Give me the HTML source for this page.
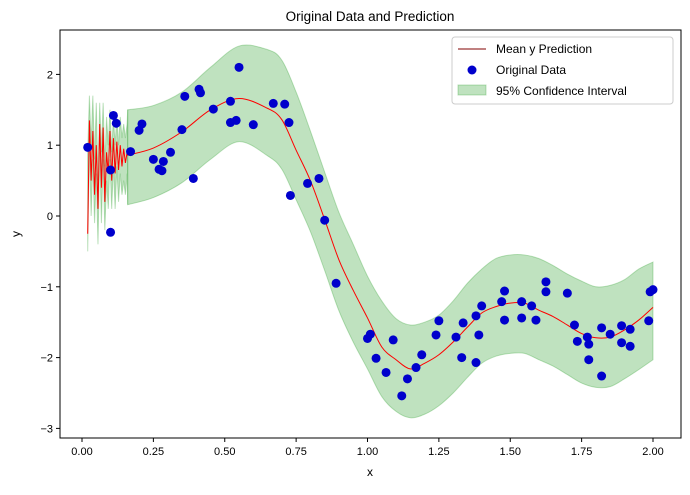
<!DOCTYPE html>
<html><head><meta charset="utf-8">
<style>
body{margin:0;background:#fff;}
svg text{font-family:"Liberation Sans","DejaVu Sans",sans-serif;fill:#000;}
</style></head>
<body>
<svg id="chart" width="690" height="490" viewBox="0 0 690 490" xmlns="http://www.w3.org/2000/svg">
<rect x="0" y="0" width="690" height="490" fill="#fff"/>
<g id="plot"></g>
</svg>
<script>
const gridX=[0.16,0.25,0.35,0.45,0.55,0.65,0.7,0.75,0.8,0.85,0.9,0.95,1.0,1.05,1.1,1.15,1.2,1.25,1.3,1.35,1.4,1.45,1.5,1.55,1.6,1.65,1.7,1.75,1.8,1.85,1.9,1.95,2.0];
const meanY=[0.86,0.96,1.19,1.5,1.66,1.52,1.36,0.93,0.5,-0.05,-0.62,-1.05,-1.44,-1.85,-2.03,-2.16,-2.08,-1.96,-1.78,-1.57,-1.37,-1.28,-1.23,-1.23,-1.33,-1.42,-1.54,-1.66,-1.72,-1.71,-1.61,-1.47,-1.29];
const upperY=[1.5,1.56,1.75,2.1,2.4,2.35,2.2,1.75,1.2,0.62,0.05,-0.4,-0.85,-1.2,-1.45,-1.54,-1.5,-1.4,-1.2,-0.95,-0.75,-0.6,-0.55,-0.55,-0.6,-0.7,-0.82,-0.92,-1.0,-0.98,-0.9,-0.75,-0.65];
const lowerY=[0.16,0.26,0.47,0.8,1.05,0.85,0.66,0.23,-0.22,-0.77,-1.34,-1.78,-2.16,-2.55,-2.76,-2.85,-2.8,-2.68,-2.5,-2.28,-2.08,-1.98,-1.94,-1.94,-2.03,-2.12,-2.24,-2.36,-2.42,-2.41,-2.3,-2.17,-2.03];
const noiseX=[0.02,0.026,0.032,0.038,0.044,0.05,0.056,0.062,0.068,0.074,0.08,0.086,0.092,0.098,0.104,0.11,0.116,0.122,0.128,0.134,0.14,0.146,0.152,0.158,0.16];
const noiseY=[-0.25,1.35,0.5,1.2,0.3,1.0,0.1,1.3,0.4,1.25,0.2,0.9,0.6,1.2,0.5,1.1,0.6,1.05,0.65,1.0,0.7,0.95,0.75,0.9,0.86];
const noiseUp=[0.9,1.7,1.0,1.7,0.8,1.6,0.5,1.6,0.9,1.6,0.7,1.4,1.0,1.5,0.9,1.4,1.0,1.4,1.0,1.4,1.1,1.3,1.1,1.3,1.5];
const noiseLo=[-0.5,1.0,0.0,0.8,-0.1,0.6,-0.4,0.9,-0.1,0.8,-0.2,0.5,0.1,0.8,0.1,0.7,0.1,0.7,0.2,0.6,0.3,0.5,0.3,0.6,0.16];
const ptX=[0.02,0.1,0.1,0.11,0.12,0.17,0.2,0.21,0.25,0.27,0.28,0.285,0.31,0.35,0.36,0.39,0.41,0.415,0.46,0.52,0.52,0.54,0.55,0.6,0.67,0.71,0.725,0.73,0.79,0.83,0.85,0.89,1.0,1.01,1.03,1.065,1.09,1.12,1.14,1.17,1.19,1.24,1.25,1.31,1.33,1.335,1.38,1.38,1.39,1.4,1.47,1.48,1.48,1.54,1.54,1.575,1.59,1.625,1.625,1.7,1.725,1.735,1.77,1.775,1.775,1.82,1.82,1.85,1.89,1.89,1.92,1.92,1.985,1.99,2.0];
const ptY=[0.97,-0.23,0.65,1.42,1.31,0.91,1.21,1.3,0.8,0.66,0.64,0.77,0.9,1.22,1.69,0.53,1.79,1.74,1.51,1.62,1.32,1.35,2.1,1.29,1.59,1.58,1.32,0.29,0.46,0.53,-0.06,-0.95,-1.73,-1.67,-2.01,-2.21,-1.75,-2.54,-2.3,-2.14,-1.96,-1.68,-1.48,-1.71,-2.0,-1.51,-1.41,-2.07,-1.68,-1.27,-1.21,-1.06,-1.47,-1.21,-1.44,-1.27,-1.47,-0.93,-1.07,-1.09,-1.54,-1.77,-1.71,-1.81,-2.03,-1.58,-2.26,-1.67,-1.55,-1.79,-1.6,-1.84,-1.48,-1.07,-1.04];
const xTicks=[0,0.25,0.5,0.75,1.0,1.25,1.5,1.75,2.0];
const xTickLabels=["0.00","0.25","0.50","0.75","1.00","1.25","1.50","1.75","2.00"];
const yTicks=[-3,-2,-1,0,1,2];
const yTickLabels=["−3","−2","−1","0","1","2"];

const NS="http://www.w3.org/2000/svg";
const L=60,R=681,T=30,B=438;
const sx=v=>82+v*285.5;
const sy=v=>216-v*70.8;
const g=document.getElementById('plot');
function mk(tag,attrs,parent){const e=document.createElementNS(NS,tag);for(const k in attrs)e.setAttribute(k,attrs[k]);(parent||g).appendChild(e);return e;}
// smooth catmull-rom segments (no leading M)
function smooth(xs,ys){
  const p=xs.map((x,i)=>[sx(x),sy(ys[i])]);
  let d="";
  for(let i=0;i<p.length-1;i++){
    const p0=p[i-1]||p[i],p1=p[i],p2=p[i+1],p3=p[i+2]||p[i+1];
    const c1=[p1[0]+(p2[0]-p0[0])/6,p1[1]+(p2[1]-p0[1])/6];
    const c2=[p2[0]-(p3[0]-p1[0])/6,p2[1]-(p3[1]-p1[1])/6];
    d+=" C"+c1[0]+","+c1[1]+" "+c2[0]+","+c2[1]+" "+p2[0]+","+p2[1];
  }
  return d;
}

let nd="M"+noiseX.map((x,i)=>sx(x)+","+sy(noiseUp[i])).join(" L")+" L"+noiseX.slice().reverse().map((x,i)=>sx(x)+","+sy(noiseLo[noiseX.length-1-i])).join(" L")+"Z";
let nb=mk('path',{d:nd,fill:'#2ca02c','fill-opacity':0.3,stroke:'#2ca02c','stroke-opacity':0.3,'stroke-width':1});



const rx=gridX.slice().reverse(), rl=lowerY.slice().reverse();
let bd="M"+sx(gridX[0])+","+sy(upperY[0])+smooth(gridX,upperY)+" L"+sx(rx[0])+","+sy(rl[0])+smooth(rx,rl)+"Z";
let band=mk('path',{d:bd,fill:'#2ca02c','fill-opacity':0.3,stroke:'#2ca02c','stroke-opacity':0.3,'stroke-width':1});



let md="M"+noiseX.map((x,i)=>sx(x)+","+sy(noiseY[i])).join(" L")+" L"+sx(gridX[0])+","+sy(meanY[0])+smooth(gridX,meanY);
let ml=mk('path',{d:md,fill:'none',stroke:'#ff0000','stroke-width':1});



ptX.forEach((x,i)=>{
  const c=mk('circle',{cx:sx(x),cy:sy(ptY[i]),r:4.5,fill:'#0000cc'});
  
  
});
let fr=mk('rect',{x:L,y:T,width:R-L,height:B-T,fill:'none',stroke:'#000','stroke-width':1});


xTicks.forEach((v,i)=>{
  const l=mk('line',{x1:sx(v),x2:sx(v),y1:B,y2:B+4,stroke:'#000'});
  
  
  const t=mk('text',{x:sx(v),y:B+17,'text-anchor':'middle','font-size':11});
  t.textContent=xTickLabels[i];
  
  
});
yTicks.forEach((v,i)=>{
  const l=mk('line',{x1:L-4,x2:L,y1:sy(v),y2:sy(v),stroke:'#000'});
  
  
  const t=mk('text',{x:L-7,y:sy(v)+4,'text-anchor':'end','font-size':11});
  t.textContent=yTickLabels[i];
  
  
});
</script>
<svg style="position:absolute;left:0;top:0" width="690" height="490">
<text x="370" y="21" text-anchor="middle" font-size="13.5">Original Data and Prediction</text>
<text x="370" y="476" text-anchor="middle" font-size="12">x</text>
<text x="20" y="234" text-anchor="middle" font-size="12" transform="rotate(-90 20 234)">y</text>
<g>
<rect x="452" y="37" width="221" height="67" rx="3" fill="#fff" fill-opacity="0.8" stroke="#ccc"/>
<line x1="458" y1="49" x2="486" y2="49" stroke="#800000" stroke-width="1"/>
<text x="496" y="53" font-size="12">Mean y Prediction</text>
<circle cx="472" cy="70" r="4.5" fill="#0000cc"/>
<text x="496" y="74" font-size="12">Original Data</text>
<rect x="458" y="85" width="28" height="10" fill="#2ca02c" fill-opacity="0.3" stroke="#2ca02c" stroke-opacity="0.3"/>
<text x="496" y="95" font-size="12">95% Confidence Interval</text>
</g>
</svg>
</body></html>
